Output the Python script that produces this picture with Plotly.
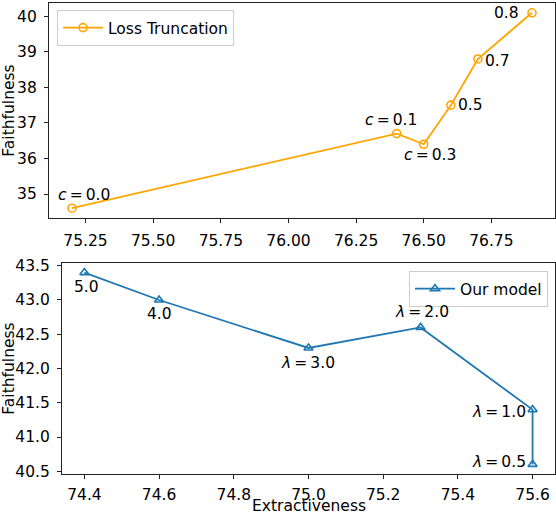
import plotly.graph_objects as go

# Loss Truncation (top panel)
lt_extract = [75.2, 76.4, 76.5, 76.6, 76.7, 76.9]
lt_faith = [34.6, 36.7, 36.4, 37.5, 38.8, 40.1]
lt_labels = ["<i>c</i>\u2009=\u20090.0", "<i>c</i>\u2009=\u20090.1", "<i>c</i>\u2009=\u20090.3",
             "0.5", "0.7", "0.8"]
lt_shift = [(12, 13), (-6, 14), (6, -11), (20, 0), (20, -2), (-26, 0)]

# Our model (bottom panel)
om_extract = [74.4, 74.6, 75.0, 75.3, 75.6, 75.6]
om_faith = [43.4, 43.0, 42.3, 42.6, 41.4, 40.6]
om_labels = ["5.0", "4.0", "<i>λ</i>\u2009=\u20093.0", "<i>λ</i>\u2009=\u20092.0",
             "<i>λ</i>\u2009=\u20091.0", "<i>λ</i>\u2009=\u20090.5"]
om_shift = [(2, -14), (0, -14), (-1, -15), (1, 15), (-34, -2), (-34, 2)]

W, H = 556, 514
L, R, T, B = 49, 1, 3, 40
PW, PH = W - L - R, H - T - B
FONT = "DejaVu Sans"
FS = 15.5
ORANGE = "#FFA500"
BLUE = "#1f77b4"


def px_x(px):
    return (px - L) / PW


def px_y(px):
    return (H - B - px) / PH


fig = go.Figure()
fig.add_trace(go.Scatter(
    x=lt_extract, y=lt_faith, mode="lines+markers", name="Loss Truncation",
    line=dict(color=ORANGE, width=1.8),
    marker=dict(symbol="circle-open", size=8, color=ORANGE, line=dict(width=1.6)),
    xaxis="x", yaxis="y", legend="legend", showlegend=True,
))
fig.add_trace(go.Scatter(
    x=om_extract, y=om_faith, mode="lines+markers", name="Our model",
    line=dict(color=BLUE, width=1.8),
    marker=dict(symbol="triangle-up-open", size=8, color=BLUE, line=dict(width=1.6)),
    xaxis="x2", yaxis="y2", legend="legend2", showlegend=True,
))

annotations = []
for x, y, t, (dx, dy) in zip(lt_extract, lt_faith, lt_labels, lt_shift):
    annotations.append(dict(x=x, y=y, xref="x", yref="y", text=t, showarrow=False,
                            xshift=dx, yshift=dy, font=dict(size=FS, color="black")))
for x, y, t, (dx, dy) in zip(om_extract, om_faith, om_labels, om_shift):
    annotations.append(dict(x=x, y=y, xref="x2", yref="y2", text=t, showarrow=False,
                            xshift=dx, yshift=dy, font=dict(size=FS, color="black")))

# x-axis title of the bottom panel, placed below its tick labels
annotations.append(dict(x=(px_x(62) + 1) / 2, y=px_y(506), xref="paper", yref="paper",
                        text="Extractiveness", showarrow=False, yanchor="middle",
                        font=dict(size=FS, color="black")))

axis_style = dict(showline=True, linecolor="#222222", linewidth=1.2, mirror=True,
                  ticks="outside", ticklen=4, tickcolor="#222222", showgrid=False,
                  zeroline=False, tickfont=dict(size=FS, color="black"), automargin=False)

fig.update_layout(
    width=W, height=H,
    margin=dict(l=L, r=R, t=T, b=B),
    paper_bgcolor="white", plot_bgcolor="white",
    font=dict(family=FONT, size=FS, color="black"),
    showlegend=True,
    xaxis=dict(domain=[0, 1], range=[75.115, 76.985],
               tickvals=[75.25, 75.5, 75.75, 76.0, 76.25, 76.5, 76.75],
               ticktext=["75.25", "75.50", "75.75", "76.00", "76.25", "76.50", "76.75"],
               ticklabelstandoff=4, anchor="y", **axis_style),
    yaxis=dict(domain=[px_y(218), 1], range=[34.325, 40.375], dtick=1,
               ticklabelstandoff=4, anchor="x",
               title=dict(text="Faithfulness", standoff=4, font=dict(size=FS)),
               **axis_style),
    xaxis2=dict(domain=[px_x(62), 1], range=[74.34, 75.66], dtick=0.2, tickformat=".1f",
                ticklabelstandoff=2, anchor="y2", **axis_style),
    yaxis2=dict(domain=[0, px_y(263)], range=[40.46, 43.54], dtick=0.5,
                tickformat=".1f", ticklabelstandoff=4, anchor="x2",
                title=dict(text="Faithfulness", standoff=4, font=dict(size=FS)),
                **axis_style),
    legend=dict(x=px_x(57), y=px_y(10), xanchor="left", yanchor="top",
                bordercolor="#cccccc", borderwidth=1, bgcolor="white",
                itemwidth=40, font=dict(size=FS)),
    legend2=dict(x=px_x(548), y=px_y(271), xanchor="right", yanchor="top",
                 bordercolor="#cccccc", borderwidth=1, bgcolor="white",
                 itemwidth=40, font=dict(size=FS)),
    annotations=annotations,
)

# drop the page's default body margin so the figure sits at the window origin
fig.write_html("out.html", config={"displayModeBar": False},
               post_script="document.body.style.margin = '0';")
